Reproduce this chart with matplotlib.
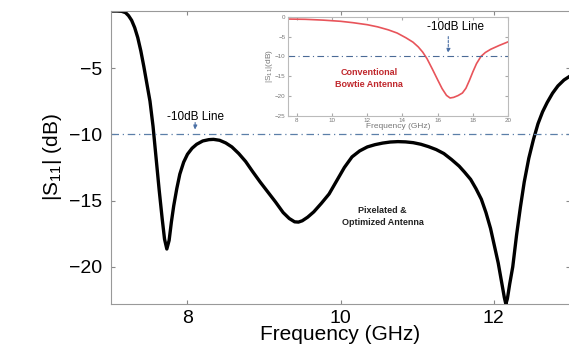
import numpy as np
import matplotlib
matplotlib.use("Agg")
import matplotlib.pyplot as plt

plt.rcParams['font.family'] = ['Liberation Sans', 'DejaVu Sans']
plt.rcParams['mathtext.fontset'] = 'custom'
plt.rcParams['mathtext.rm'] = 'Liberation Sans'

# main curve: pixelated & optimized antenna
freq = [7.00, 7.08, 7.14, 7.19, 7.23, 7.27, 7.31, 7.35, 7.39, 7.43, 7.47, 7.51,
        7.55, 7.59, 7.63, 7.67, 7.70, 7.73, 7.76, 7.79, 7.82, 7.86, 7.90, 7.95,
        8.00, 8.06, 8.12, 8.20, 8.28, 8.34, 8.42, 8.50, 8.58, 8.67, 8.76, 8.85,
        8.95, 9.05, 9.15, 9.25, 9.33, 9.40, 9.45, 9.50, 9.57, 9.65, 9.75, 9.85,
        9.95, 10.05, 10.15, 10.25, 10.35, 10.45, 10.55, 10.65, 10.75, 10.85, 10.95,
        11.05, 11.15, 11.25, 11.35, 11.45, 11.55, 11.62, 11.70, 11.77, 11.84, 11.90,
        11.96, 12.01, 12.06, 12.10, 12.14, 12.16, 12.18, 12.21, 12.25, 12.30, 12.35,
        12.40, 12.46, 12.52, 12.58, 12.64, 12.70, 12.77, 12.84, 12.92, 13.00]
s11 = [-0.70, -0.70, -0.72, -0.82, -1.05, -1.40, -1.95, -2.70, -3.70, -4.90, -6.20, -7.50,
       -9.40, -11.80, -14.20, -16.40, -17.90, -18.65, -18.00, -16.60, -15.40, -14.10, -13.00, -12.10,
       -11.50, -11.05, -10.75, -10.50, -10.40, -10.38, -10.45, -10.65, -10.95, -11.45, -12.05, -12.80,
       -13.60, -14.35, -15.10, -15.90, -16.35, -16.60, -16.62, -16.52, -16.25, -15.85, -15.20, -14.50,
       -13.50, -12.50, -11.70, -11.25, -10.95, -10.78, -10.66, -10.58, -10.55, -10.57, -10.63,
       -10.75, -10.93, -11.15, -11.45, -11.90, -12.40, -12.85, -13.40, -14.10, -14.90, -15.90,
       -17.10, -18.40, -19.70, -21.00, -22.30, -22.80, -22.40, -21.30, -20.00, -17.60, -15.50,
       -13.60, -11.80, -10.40, -9.20, -8.30, -7.60, -6.90, -6.35, -5.90, -5.60]

# inset curve: conventional bowtie antenna
freq_bt = [7.5, 8.5, 9.5, 10.5, 11.2, 12.0, 12.6, 13.2, 13.7, 14.2, 14.6, 14.9,
           15.15, 15.4, 15.7, 16.0, 16.25, 16.5, 16.7, 16.9, 17.15, 17.4, 17.6,
           17.8, 18.0, 18.2, 18.45, 18.7, 19.0, 19.5, 20.0]
s11_bt = [-0.58, -0.65, -0.85, -1.15, -1.5, -2.0, -2.55, -3.3, -4.1, -5.3, -6.4, -7.6,
          -8.9, -10.6, -13.2, -15.9, -18.1, -19.8, -20.45, -20.3, -19.85, -19.2, -18.0,
          -16.0, -13.8, -11.8, -10.0, -9.0, -8.2, -7.2, -6.3]

xticks_main = [8, 10, 12]
yticks_main = [-5, -10, -15, -20]
xticks_in = [8, 10, 12, 14, 16, 18, 20]
yticks_in = [0, -5, -10, -15, -20, -25]

fig = plt.figure(figsize=(5.69, 3.56), dpi=100)
ax = fig.add_axes([0.195, 0.146, 0.807, 0.823])

ax.plot(freq, s11, color='black', lw=2.4, solid_capstyle='round',
        solid_joinstyle='round')
ax.axhline(-10, color='#5b7fa8', lw=0.9, ls=(0, (6, 3, 1, 3)))
ax.set_xlim(7, 13)
ax.set_ylim(-22.8, -0.7)
ax.set_xticks(xticks_main)
ax.set_yticks(yticks_main)
ax.tick_params(direction='in', length=3, color='#888888', labelsize=14,
               top=True, right=True)
ax.tick_params(axis='x', pad=4)
ax.tick_params(axis='y', pad=6)
for sp in ax.spines.values():
    sp.set_color('#999999')
ax.set_xlabel('Frequency (GHz)', fontsize=15, labelpad=-1)
ax.set_ylabel(r'$|\mathrm{S}_{11}|$ (dB)', fontsize=15, labelpad=4)

ax.text(8.1, -8.7, '-10dB Line', fontsize=8.5, ha='center', va='center')
ax.annotate('', xy=(8.1, -9.85), xytext=(8.1, -8.9),
            arrowprops=dict(arrowstyle='-|>', color='#4a6fa5', lw=0.8,
                            ls=(0, (2, 1.5)), mutation_scale=6))
ax.text(10.55, -16.2, 'Pixelated &\nOptimized Antenna', fontsize=6.5,
        fontweight='bold', ha='center', va='center', linespacing=1.5,
        color='#222222')

# inset
ins = fig.add_axes([0.5056, 0.674, 0.3877, 0.279])
ins.plot(freq_bt, s11_bt, color='#e8545a', lw=1.2)
ins.axhline(-10, color='#4a6a96', lw=0.8, ls=(0, (6, 3, 1, 3)))
ins.set_xlim(7.5, 20)
ins.set_ylim(-25, 0)
ins.set_xticks(xticks_in)
ins.set_yticks(yticks_in)
ins.tick_params(direction='in', length=2, color='#aaaaaa', labelsize=4.5,
                labelcolor='#777777', pad=1.5, top=True, right=True)
for sp in ins.spines.values():
    sp.set_color('#bbbbbb')
ins.set_xlabel('Frequency (GHz)', fontsize=6, color='#777777', labelpad=0)
ins.set_ylabel(r'$|\mathrm{S}_{11}|$(dB)', fontsize=6, color='#777777', labelpad=0)
ins.text(17.0, -2.6, '-10dB Line', fontsize=8.5, ha='center', va='center')
ins.annotate('', xy=(16.6, -9.8), xytext=(16.6, -4.3),
             arrowprops=dict(arrowstyle='-|>', color='#4a6fa5', lw=0.8,
                             ls=(0, (2, 1.5)), mutation_scale=6))
ins.text(12.1, -15.5, 'Conventional\nBowtie Antenna', fontsize=6.5,
         fontweight='bold', ha='center', va='center', linespacing=1.5,
         color='#c0282d')

fig.savefig('out.png', dpi=100)
